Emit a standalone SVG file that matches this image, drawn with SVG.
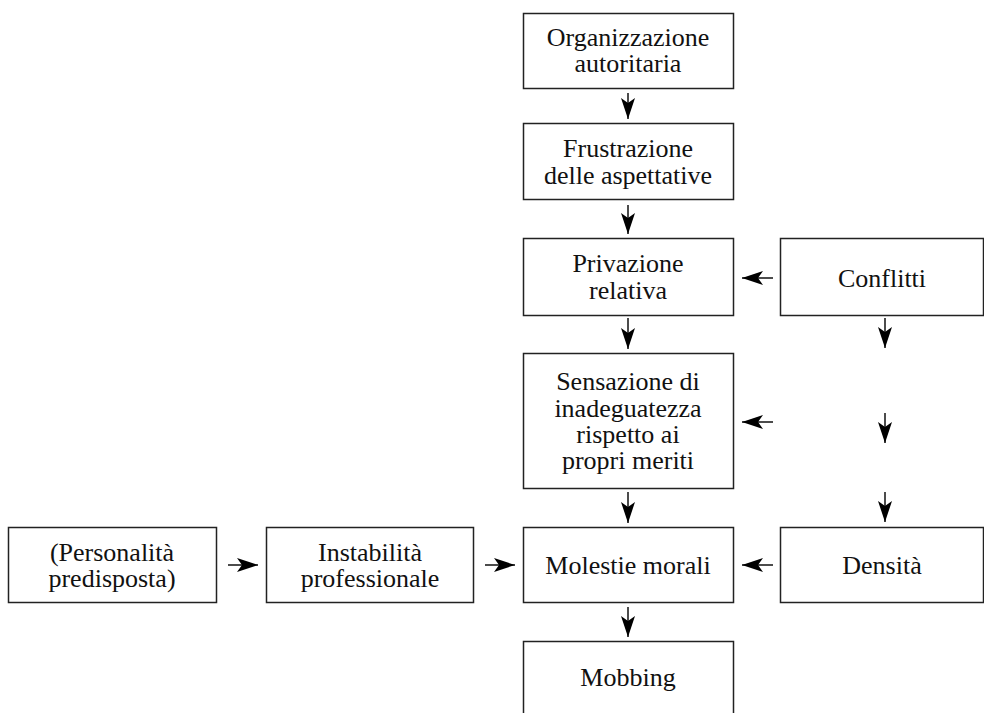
<svg xmlns="http://www.w3.org/2000/svg" width="984" height="713" viewBox="0 0 984 713">
<style>
.box{fill:#fff;stroke:#222;stroke-width:1.5}
.t{font-family:"Liberation Serif","Times New Roman",serif;font-size:26px;fill:#111;text-anchor:middle}
.c{stroke:#111;stroke-width:1.5;fill:none;marker-end:url(#ah)}
</style>
<defs>
<marker id="ah" markerUnits="userSpaceOnUse" viewBox="-22 -8 23 16" refX="0" refY="0" markerWidth="23" markerHeight="16" orient="auto">
<path d="M0,0 L-21,-7 L-16,0 L-21,7 Z" fill="#000"/>
</marker>
</defs>
<rect width="984" height="713" fill="#fff"/>
<g id="n-organizzazione"><rect class="box" x="523.5" y="13.5" width="210" height="75"/><text class="t" x="628" y="46">Organizzazione</text><text class="t" x="628" y="72">autoritaria</text></g>
<g id="n-frustrazione"><rect class="box" x="523.5" y="123.5" width="210" height="76"/><text class="t" x="628" y="157">Frustrazione</text><text class="t" x="628" y="184">delle aspettative</text></g>
<g id="n-privazione"><rect class="box" x="523.5" y="238.5" width="210" height="77"/><text class="t" x="628" y="272">Privazione</text><text class="t" x="628" y="299">relativa</text></g>
<g id="n-conflitti"><rect class="box" x="780.5" y="238.5" width="203" height="77"/><text class="t" x="882" y="287">Conflitti</text></g>
<g id="n-sensazione"><rect class="box" x="523.5" y="353.5" width="210" height="135"/><text class="t" x="628" y="390">Sensazione di</text><text class="t" x="628" y="417">inadeguatezza</text><text class="t" x="628" y="443">rispetto ai</text><text class="t" x="628" y="469">propri meriti</text></g>
<g id="n-personalita"><rect class="box" x="8.5" y="527.5" width="208" height="75"/><text class="t" x="112" y="561">(Personalità</text><text class="t" x="112" y="587">predisposta)</text></g>
<g id="n-instabilita"><rect class="box" x="266.5" y="527.5" width="207" height="75"/><text class="t" x="370" y="561">Instabilità</text><text class="t" x="370" y="587">professionale</text></g>
<g id="n-molestie"><rect class="box" x="523.5" y="527.5" width="210" height="75"/><text class="t" x="628" y="574">Molestie morali</text></g>
<g id="n-densita"><rect class="box" x="780.5" y="527.5" width="203" height="75"/><text class="t" x="882" y="574">Densità</text></g>
<g id="n-mobbing"><path class="box" d="M523.5,716 V641.5 H733.5 V716"/><text class="t" x="628" y="686">Mobbing</text></g>
<g id="connectors">
<line class="c" x1="628" y1="93" x2="628" y2="119"/>
<line class="c" x1="628" y1="205" x2="628" y2="234"/>
<line class="c" x1="628" y1="318" x2="628" y2="349"/>
<line class="c" x1="628" y1="492" x2="628" y2="523"/>
<line class="c" x1="628" y1="607" x2="628" y2="637"/>
<line class="c" x1="885" y1="318" x2="885" y2="348"/>
<line class="c" x1="885" y1="413" x2="885" y2="443"/>
<line class="c" x1="885" y1="492" x2="885" y2="522"/>
<line class="c" x1="773" y1="278" x2="742" y2="278"/>
<line class="c" x1="773" y1="422" x2="742" y2="422"/>
<line class="c" x1="773" y1="565" x2="742" y2="565"/>
<line class="c" x1="228" y1="565" x2="258" y2="565"/>
<line class="c" x1="485" y1="565" x2="515" y2="565"/>
</g>
</svg>
